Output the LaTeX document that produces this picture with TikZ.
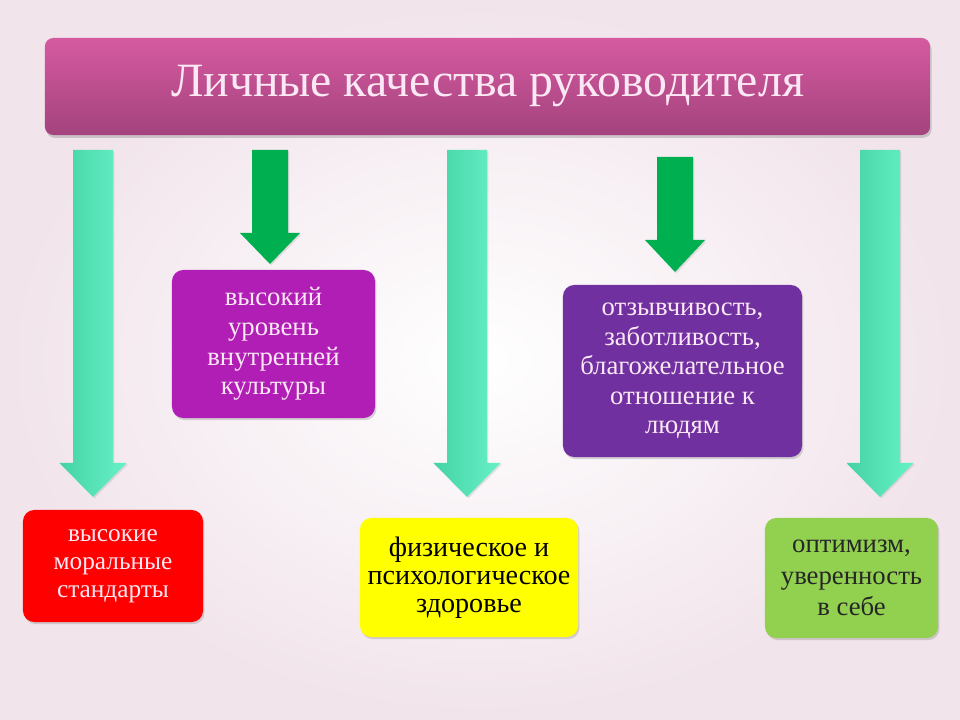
\documentclass[tikz,border=0pt]{standalone}
\usepackage{fontspec}
\setmainfont{Liberation Serif}
\usetikzlibrary{shadows}

\definecolor{bgpink}{HTML}{F1E4EB}
\definecolor{titletop}{HTML}{D65AA0}
\definecolor{titlebot}{HTML}{A3437D}
\definecolor{aquadark}{HTML}{45D2A4}
\definecolor{aqualight}{HTML}{66F2C6}
\definecolor{arrowgreen}{HTML}{00B050}
\definecolor{violet1}{HTML}{B01EB6}
\definecolor{violet2}{HTML}{7030A0}
\definecolor{boxred}{HTML}{FF0000}
\definecolor{boxyellow}{HTML}{FFFF00}
\definecolor{boxgreen}{HTML}{92D050}
\definecolor{lighttext}{HTML}{FBE8F4}

\tikzset{
    quality/.style={rounded corners=8pt, align=center, inner sep=0pt,
	font=\fontsize{19}{21}\selectfont,
	drop shadow={opacity=0.3, shadow xshift=1pt, shadow yshift=-1.5pt}},
    aquaarrow/.style={left color=aquadark, right color=aqualight,
	drop shadow={opacity=0.2, shadow xshift=1pt, shadow yshift=-1pt}},
    greenarrow/.style={fill=arrowgreen,
	drop shadow={opacity=0.2, shadow xshift=1pt, shadow yshift=-1pt}}
}

\newcommand{\blockarrow}[7]{%
    \path[#7] (#1-#5, #2) -- (#1+#5, #2) -- (#1+#5, #3) -- (#1+#6, #3)
	-- (#1, #4) -- (#1-#6, #3) -- (#1-#5, #3) -- cycle;}

\begin{document}
\begin{tikzpicture}[x=0.025cm, y=-0.025cm]
    \useasboundingbox (0, 0) rectangle (960, 720);
    \shade[inner color=white, outer color=bgpink] (0, 0) rectangle (960, 720);

    \node[rounded corners=6pt, top color=titletop, bottom color=titlebot,
	minimum width=22.125cm, minimum height=2.425cm, inner sep=0pt,
	text=lighttext, font=\fontsize{34}{40}\selectfont,
	drop shadow={opacity=0.35, shadow xshift=1pt, shadow yshift=-2pt}]
	(title) at (487.5, 86.5) {Личные качества руководителя};

    \foreach \xa/\ya/\yb/\yc in {93/150/463/497, 467/150/463/497, 880/150/463/497}
	\blockarrow{\xa}{\ya}{\yb}{\yc}{20}{33.5}{aquaarrow};
    \foreach \xa/\ya/\yb/\yc in {270/150/233/264, 675/157/240/272}
	\blockarrow{\xa}{\ya}{\yb}{\yc}{18}{30}{greenarrow};

    \node[quality, fill=violet1, text=lighttext, minimum width=5.075cm,
	minimum height=3.7cm] (culture) at (273.5, 344)
	{высокий\\уровень\\внутренней\\культуры};
    \node[quality, fill=violet2, text=lighttext, minimum width=5.975cm,
	minimum height=4.3cm] (care) at (682.5, 371)
	{отзывчивость,\\заботливость,\\благожелательное\\отношение к\\людям};
    \node[quality, fill=boxred, text=lighttext, minimum width=4.5cm,
	minimum height=2.8cm, font=\fontsize{18}{20}\selectfont] (moral) at (113, 566)
	{высокие\\моральные\\стандарты};
    \node[quality, fill=boxyellow, text=black, minimum width=5.45cm,
	minimum height=2.975cm, font=\fontsize{20}{20}\selectfont] (health) at (469, 577.5)
	{физическое и\\психологическое\\здоровье};
    \node[quality, fill=boxgreen, text=black!85, minimum width=4.325cm,
	minimum height=3cm, font=\fontsize{19}{22.5}\selectfont] (optimism) at (851.5, 578)
	{оптимизм,\\уверенность\\в себе};
\end{tikzpicture}
\end{document}
